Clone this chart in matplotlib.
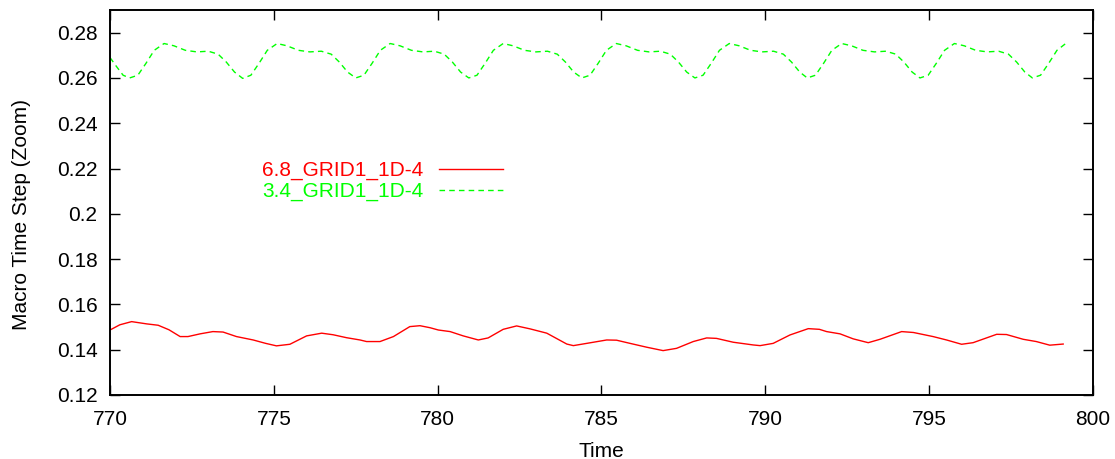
import matplotlib
matplotlib.use("Agg")
import matplotlib.pyplot as plt

plt.rcParams['font.family'] = ['Liberation Sans', 'DejaVu Sans']

# Red series: 6.8_GRID1_1D-4
t_red = [770.00, 770.30, 770.66, 771.12, 771.47, 771.80, 772.14, 772.38, 772.75, 773.14,
         773.45, 773.86, 774.37, 774.75, 775.08, 775.49, 776.00, 776.46, 776.81, 777.22,
         777.63, 777.83, 778.24, 778.65, 779.15, 779.46, 779.77, 780.02, 780.38, 780.78,
         781.24, 781.54, 782.00, 782.41, 782.82, 783.33, 783.94, 784.14, 784.55, 785.16,
         785.46, 785.87, 786.38, 786.88, 787.29, 787.80, 788.21, 788.51, 789.02, 789.63,
         789.84, 790.24, 790.75, 791.31, 791.65, 791.87, 792.28, 792.68, 793.14, 793.50,
         794.16, 794.52, 795.12, 795.53, 795.99, 796.34, 797.06, 797.36, 797.87, 798.27,
         798.68, 799.09]
v_red = [0.1487, 0.1510, 0.1524, 0.1514, 0.1508, 0.1488, 0.1458, 0.1458, 0.1470, 0.1480,
         0.1478, 0.1458, 0.1443, 0.1428, 0.1417, 0.1424, 0.1461, 0.1473, 0.1466, 0.1453,
         0.1443, 0.1436, 0.1436, 0.1458, 0.1502, 0.1506, 0.1497, 0.1487, 0.1480, 0.1461,
         0.1443, 0.1452, 0.1490, 0.1505, 0.1492, 0.1473, 0.1425, 0.1418, 0.1428, 0.1443,
         0.1442, 0.1428, 0.1411, 0.1396, 0.1406, 0.1436, 0.1452, 0.1450, 0.1433, 0.1421,
         0.1418, 0.1428, 0.1465, 0.1493, 0.1490, 0.1480, 0.1470, 0.1448, 0.1431, 0.1446,
         0.1480, 0.1476, 0.1458, 0.1443, 0.1424, 0.1431, 0.1468, 0.1467, 0.1446, 0.1436,
         0.1420, 0.1425]

# Green series: 3.4_GRID1_1D-4
t_green = [770.00, 770.20, 770.40, 770.60, 770.85, 771.10, 771.35, 771.65, 771.95, 772.30,
           772.65, 773.00, 773.30, 773.55, 773.80, 774.05, 774.30, 774.55, 774.80, 775.10,
           775.40, 775.75, 776.10, 776.45, 776.75, 777.00, 777.25, 777.50, 777.75, 778.00,
           778.25, 778.55, 778.85, 779.20, 779.55, 779.90, 780.20, 780.45, 780.70, 780.95,
           781.20, 781.45, 781.70, 782.00, 782.30, 782.65, 783.00, 783.35, 783.65, 783.90,
           784.15, 784.40, 784.65, 784.90, 785.15, 785.45, 785.75, 786.10, 786.45, 786.80,
           787.10, 787.35, 787.60, 787.85, 788.10, 788.35, 788.60, 788.90, 789.20, 789.55,
           789.90, 790.25, 790.55, 790.80, 791.05, 791.28, 791.53, 791.78, 792.03, 792.33,
           792.63, 792.98, 793.33, 793.68, 793.98, 794.23, 794.48, 794.72, 794.97, 795.22,
           795.47, 795.77, 796.07, 796.42, 796.77, 797.12, 797.42, 797.67, 797.92, 798.15,
           798.40, 798.65, 798.90, 799.15]
v_green = [0.2690, 0.2650, 0.2612, 0.2600, 0.2612, 0.2665, 0.2722, 0.2752, 0.2742, 0.2722,
           0.2715, 0.2718, 0.2705, 0.2670, 0.2626, 0.2598, 0.2612, 0.2665, 0.2722, 0.2752,
           0.2742, 0.2722, 0.2715, 0.2718, 0.2705, 0.2670, 0.2626, 0.2600, 0.2612, 0.2665,
           0.2722, 0.2752, 0.2742, 0.2722, 0.2715, 0.2718, 0.2705, 0.2670, 0.2626, 0.2600,
           0.2612, 0.2665, 0.2722, 0.2752, 0.2742, 0.2722, 0.2715, 0.2718, 0.2705, 0.2670,
           0.2626, 0.2600, 0.2612, 0.2665, 0.2722, 0.2752, 0.2742, 0.2722, 0.2715, 0.2718,
           0.2705, 0.2670, 0.2626, 0.2600, 0.2612, 0.2665, 0.2722, 0.2752, 0.2742, 0.2722,
           0.2715, 0.2718, 0.2705, 0.2670, 0.2626, 0.2600, 0.2612, 0.2665, 0.2722, 0.2752,
           0.2742, 0.2722, 0.2715, 0.2718, 0.2705, 0.2670, 0.2626, 0.2600, 0.2612, 0.2665,
           0.2722, 0.2752, 0.2742, 0.2722, 0.2715, 0.2718, 0.2705, 0.2670, 0.2626, 0.2600,
           0.2612, 0.2665, 0.2722, 0.2750]

x_ticks = [770, 775, 780, 785, 790, 795, 800]
y_ticks = [0.12, 0.14, 0.16, 0.18, 0.2, 0.22, 0.24, 0.26, 0.28]
y_tick_labels = ["0.12", "0.14", "0.16", "0.18", "0.2", "0.22", "0.24", "0.26", "0.28"]

FS = 15

fig = plt.figure(figsize=(11.15, 4.59), dpi=100)
ax = fig.add_axes([110 / 1115, 1 - 395 / 459, (1093 - 110) / 1115, (395 - 10) / 459])

ax.plot(t_red, v_red, color="#ff0000", lw=1.0, label="6.8_GRID1_1D-4")
ax.plot(t_green, v_green, color="#00ff00", lw=1.0, linestyle=(0, (4, 3)), label="3.4_GRID1_1D-4")

ax.set_xlim(770, 800)
ax.set_ylim(0.12, 0.29)
ax.set_xticks(x_ticks)
ax.set_xticklabels([str(v) for v in x_ticks])
ax.set_yticks(y_ticks)
ax.set_yticklabels(y_tick_labels)
ax.tick_params(direction="in", top=True, right=True, length=7, width=1, labelsize=FS)
ax.tick_params(axis="y", pad=9)
ax.tick_params(axis="x", pad=11)
for s in ax.spines.values():
    s.set_linewidth(1.4)

ax.set_xlabel("Time", fontsize=FS, labelpad=9)
ax.set_ylabel("Macro Time Step (Zoom)", fontsize=FS)
ax.yaxis.set_label_coords((31 - 110) / 983, (395 - 215) / 385)

leg = ax.legend(loc="upper left", bbox_to_anchor=((262 - 110) / 983, (395 - 161) / 385),
                frameon=False, markerfirst=False, fontsize=FS, handlelength=3.1,
                labelspacing=0.08, handletextpad=0.75, borderpad=0, borderaxespad=0,
                labelcolor="linecolor")

fig.savefig("out.png", dpi=100)
